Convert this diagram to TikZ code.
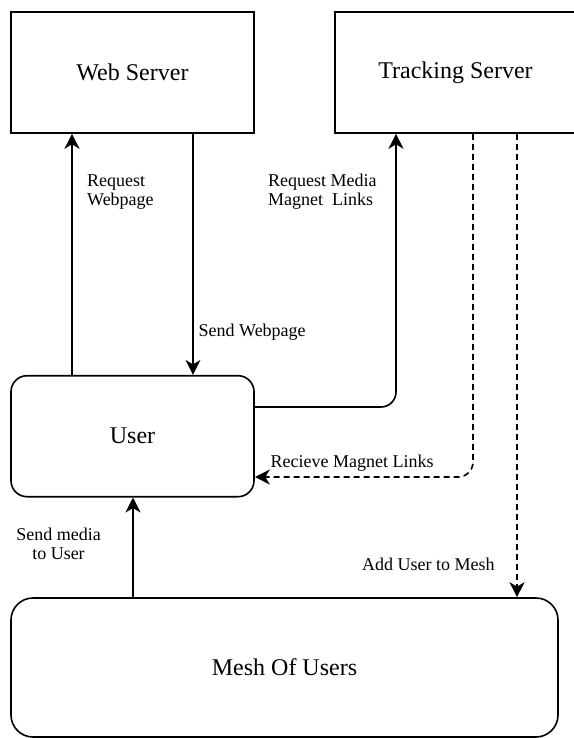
\documentclass[tikz,border=0pt]{standalone}
\usepackage{fontspec}
\setmainfont{Liberation Serif}
\usetikzlibrary{arrows.meta}
\begin{document}
\begin{tikzpicture}[x=1pt,y=-1pt,
  box/.style={draw, line width=1.6pt, inner sep=0pt, font=\fontsize{24}{28}\selectfont},
  lab/.style={inner sep=0pt, font=\fontsize{18}{19.5}\selectfont},
  conn/.style={line width=1.6pt, -{Stealth[length=15pt,width=15pt,inset=4.5pt]}},
  dconn/.style={conn, dash pattern=on 6pt off 4pt}]
  \useasboundingbox (0,0) rectangle (573,738);

  % servers, user and the swarm
  \node[box, minimum width=243pt, minimum height=121pt] (web) at (132.5,72.5) {Web Server};
  \node[box, minimum width=241pt, minimum height=121pt] (track) at (455.5,72.5) {Tracking Server};
  \node[box, rounded corners=16pt, minimum width=243pt, minimum height=121pt] (user) at (132.5,436.2) {User};
  \node[box, rounded corners=22pt, minimum width=547pt, minimum height=139pt] (mesh) at (284.5,667.5) {Mesh Of Users};

  % connectors
  \draw[conn] (user.north -| 72,0) -- (web.south -| 72,0);
  \draw[conn] (web.south -| 193,0) -- (user.north -| 193,0);
  \draw[conn, rounded corners=15pt] (user.east |- 0,407) -| (track.south -| 396,0);
  \draw[dconn, rounded corners=15pt] (track.south -| 473,0) |- (user.east |- 0,477);
  \draw[dconn] (track.south -| 517,0) -- (mesh.north -| 517,0);
  \draw[conn] (mesh.north -| 133,0) -- (user.south -| 133,0);

  % connector labels
  \node[lab, align=left, anchor=north west] (lreqweb) at (87,174.1) {Request\\Webpage};
  \node[lab, align=left, anchor=north west] (lreqmag) at (268,173.7) {Request Media\\Magnet~~Links};
  \node[lab, anchor=base west] (lsendweb) at (198.5,336) {Send Webpage};
  \node[lab, anchor=base west] (lrecv) at (270.5,467) {Recieve Magnet Links};
  \node[lab, align=center, anchor=north] (lmedia) at (58.5,527.7) {Send media\\to User};
  \node[lab, anchor=base west] (ladd) at (362,570) {Add User to Mesh};
\end{tikzpicture}
\end{document}
